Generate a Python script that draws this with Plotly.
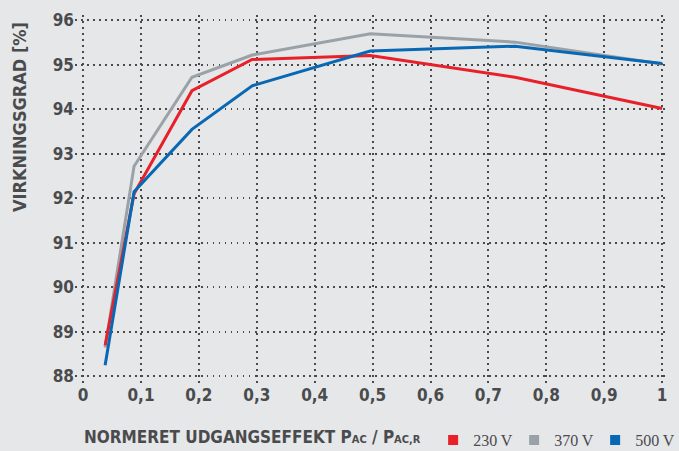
import plotly.graph_objects as go

x_vals = [0.038, 0.088, 0.188, 0.292, 0.496, 0.746, 1.0]
v230 = [88.7, 92.1, 94.42, 95.12, 95.21, 94.72, 94.02]
v370 = [88.65, 92.72, 94.72, 95.22, 95.7, 95.51, 95.02]
v500 = [88.25, 92.15, 93.55, 94.53, 95.31, 95.42, 95.03]
series_names = ["230 V", "370 V", "500 V"]
colors = ["#e8202a", "#9aa2a7", "#0868b4"]
x_ticks = [0, 0.1, 0.2, 0.3, 0.4, 0.5, 0.6, 0.7, 0.8, 0.9, 1]
x_tick_labels = ["0", "0,1", "0,2", "0,3", "0,4", "0,5", "0,6", "0,7", "0,8", "0,9", "1"]
y_ticks = [88, 89, 90, 91, 92, 93, 94, 95, 96]

BG = "#e6e7e9"
TXT = "#4a4b4d"
COND = "DejaVu Sans Condensed, Liberation Sans Narrow, Roboto, sans-serif"

fig = go.Figure()
for name, ys, col in [(series_names[1], v370, colors[1]), (series_names[0], v230, colors[0]), (series_names[2], v500, colors[2])]:
    fig.add_trace(go.Scatter(x=x_vals, y=ys, mode="lines", line=dict(color=col, width=3),
                             showlegend=False, hoverinfo="skip"))
for name, col in zip(series_names, colors):
    fig.add_trace(go.Scatter(x=[None], y=[None], mode="markers", name=name,
                             marker=dict(symbol="square", size=10, color=col)))

fig.update_layout(
    width=679, height=451,
    paper_bgcolor=BG, plot_bgcolor=BG,
    margin=dict(l=75, r=14, t=15, b=68, autoexpand=False),
    font=dict(family=COND, color=TXT),
    legend=dict(orientation="h", x=0.607, xanchor="left", y=-0.155, yanchor="middle",
                font=dict(family="Liberation Serif, DejaVu Serif, serif", size=16, color=TXT),
                itemwidth=30, entrywidth=36, entrywidthmode="pixels",
                bgcolor="rgba(0,0,0,0)", traceorder="normal", itemclick=False),
)
fig.update_xaxes(range=[-0.014, 1.005], tickvals=x_ticks, ticktext=x_tick_labels,
                 showgrid=True, gridcolor="#4a4a4a", griddash="1.5px,4.5px", gridwidth=1.5,
                 zeroline=False, showline=False, ticks="", automargin=False,
                 tickfont=dict(family=COND, size=17, color=TXT, weight="bold"))
fig.update_yaxes(range=[87.85, 96.12], tickvals=y_ticks,
                 showgrid=True, gridcolor="#4a4a4a", griddash="1.5px,4.5px", gridwidth=1.5,
                 zeroline=False, showline=False, ticks="", automargin=False,
                 tickfont=dict(family=COND, size=17, color=TXT, weight="bold"))
fig.add_annotation(text="VIRKNINGSGRAD [%]", textangle=-90,
                   xref="paper", yref="paper", x=-0.095, y=0.986, xanchor="center", yanchor="top",
                   showarrow=False, font=dict(family=COND, size=18, color=TXT, weight="bold"))
fig.add_annotation(text="NORMERET UDGANGSEFFEKT P<span style=\"font-size:11px\">AC</span> / P<span style=\"font-size:11px\">AC,R</span>",
                   xref="paper", yref="paper", x=0.012, y=-0.147, xanchor="left", yanchor="middle",
                   showarrow=False, font=dict(family=COND, size=17, color=TXT, weight="bold"))

fig.write_html("out.html", config={"displayModeBar": False},
               post_script="document.body.style.margin='0';document.body.style.overflow='hidden';")
